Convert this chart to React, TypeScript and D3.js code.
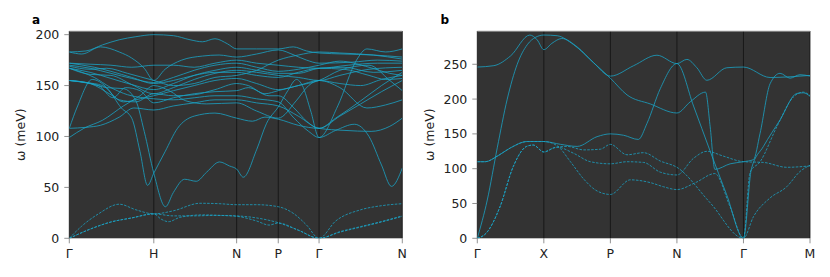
import * as d3 from "d3";

type Pt = [number, number];

// high-symmetry paths
const pathLabelsA = ["Γ", "H", "N", "P", "Γ", "N"];
const pathPosA = [0, 2.03, 4.02, 5.02, 6.0, 8];
const pathLabelsB = ["Γ", "X", "P", "N", "Γ", "M"];
const pathPosB = [0, 1, 2, 3, 4, 5];

const yTicksA = [0, 50, 100, 150, 200];
const yTicksB = [0, 50, 100, 150, 200, 250];

// panel a: optical branches (meV)
const opticalA: Pt[][] = [
  [[0, 183], [0.3, 181], [0.75, 188], [1.2, 183], [1.5, 177], [1.8, 167], [2.03, 155], [2.3, 166], [2.7, 175], [3.2, 179], [3.6, 180], [4.02, 178], [4.5, 181], [5.02, 185], [5.4, 180], [5.7, 175], [6.0, 172], [6.8, 173], [7.4, 175], [8, 174]],
  [[0, 183], [0.4, 184], [0.8, 190], [1.2, 195], [1.6, 198], [2.03, 200], [2.5, 199], [2.9, 195], [3.2, 193], [3.5, 196], [3.8, 191], [4.02, 186], [4.5, 186], [5.02, 186], [5.38, 188], [5.7, 184], [6.0, 182], [6.6, 181], [7.3, 180], [8, 178]],
  [[0, 172], [0.5, 171], [1.0, 170], [1.5, 168], [2.03, 170], [2.5, 170], [3.0, 168], [3.5, 172], [4.02, 175], [4.5, 172], [5.02, 170], [5.5, 168], [6.0, 167], [6.7, 170], [7.4, 172], [8, 172]],
  [[0, 170], [0.5, 167], [1.0, 162], [1.5, 157], [2.03, 153], [2.5, 158], [3.0, 165], [3.5, 170], [4.02, 172], [4.5, 168], [5.02, 164], [5.5, 166], [6.0, 170], [6.5, 174], [7.2, 168], [7.7, 162], [8, 160]],
  [[0, 167], [0.5, 163], [1.0, 157], [1.5, 151], [2.03, 146], [2.5, 152], [3.0, 160], [3.5, 165], [4.02, 168], [4.5, 165], [5.02, 162], [5.5, 162], [6.0, 167], [6.6, 168], [7.3, 163], [8, 165]],
  [[0, 167], [0.5, 161], [1.0, 160], [1.5, 151], [2.03, 142], [2.5, 148], [3.0, 156], [3.5, 162], [4.02, 165], [4.5, 163], [5.02, 160], [5.5, 158], [6.0, 155], [6.5, 160], [7.2, 166], [8, 168]],
  [[0, 172], [0.6, 168], [1.0, 164], [1.5, 158], [2.03, 152], [2.5, 155], [3.0, 160], [3.5, 163], [4.02, 163], [4.5, 160], [5.02, 158], [5.5, 163], [6.0, 167], [6.6, 166], [7.2, 160], [7.6, 156], [8, 157]],
  [[0, 169], [0.5, 166], [0.9, 167], [1.4, 162], [2.03, 155], [2.5, 150], [3.0, 152], [3.5, 158], [4.02, 160], [4.5, 165], [5.02, 175], [5.5, 180], [6.0, 183], [6.5, 182], [7.3, 180], [8, 176]],
  [[0, 155], [0.5, 152], [1.0, 141], [1.3, 134], [1.7, 137], [2.03, 140], [2.5, 145], [3.0, 150], [3.5, 155], [4.02, 157], [4.5, 152], [5.02, 146], [5.5, 150], [6.0, 155], [6.5, 148], [7.15, 128], [7.6, 131], [8, 136]],
  [[0, 155], [0.4, 153], [0.8, 150], [1.2, 136], [1.6, 134], [2.03, 142], [2.5, 140], [3.0, 141], [3.5, 146], [4.02, 152], [4.3, 150], [4.7, 142], [5.02, 145], [5.5, 150], [6.0, 155], [6.5, 165], [7.2, 170], [7.7, 155], [8, 145]],
  [[0, 155], [0.7, 150], [1.05, 138], [1.35, 148], [1.7, 145], [2.03, 133], [2.5, 138], [3.0, 142], [3.5, 144], [4.02, 145], [4.3, 148], [4.8, 140], [5.02, 140], [5.4, 128], [5.7, 115], [6.0, 108], [6.4, 118], [7.0, 135], [7.5, 150], [8, 163]],
  [[0, 167], [0.6, 158], [1.0, 148], [1.4, 141], [2.03, 137], [2.5, 136], [3.0, 138], [3.5, 140], [4.02, 140], [4.5, 137], [5.02, 134], [5.4, 118], [5.75, 105], [6.0, 99], [6.4, 106], [6.85, 112], [7.2, 100], [7.5, 72], [7.74, 51], [8, 69]],
  [[0, 108], [0.4, 109], [0.75, 111], [1.2, 119], [1.55, 128], [2.03, 126], [2.5, 130], [3.0, 133], [3.5, 136], [4.02, 136], [4.5, 133], [5.02, 130], [5.5, 120], [6.0, 108], [6.6, 106], [7.25, 105], [7.7, 110], [8, 118]],
  [[0, 99], [0.35, 108], [0.8, 116], [1.3, 130], [1.7, 140], [2.03, 150], [2.4, 145], [2.8, 135], [3.3, 132], [4.02, 133], [4.5, 125], [5.02, 118], [5.45, 135], [5.75, 150], [6.0, 155], [6.5, 152], [7.0, 150], [7.5, 156], [8, 160]],
  [[0, 108], [0.2, 130], [0.55, 156], [0.9, 148], [1.25, 128], [1.5, 118], [1.7, 85], [1.88, 52], [2.03, 64], [2.3, 85], [2.6, 108], [3.0, 120], [3.5, 123], [4.02, 118], [4.4, 115], [4.7, 119], [5.02, 117], [5.5, 111], [6.0, 108], [6.5, 120], [7.0, 132], [7.5, 144], [8, 155]],
  [[0, 155], [0.5, 152], [0.9, 148], [1.3, 147], [1.6, 135], [1.8, 105], [2.03, 64], [2.31, 31], [2.5, 45], [2.77, 58], [3.05, 56], [3.3, 65], [3.61, 75], [3.85, 71], [4.02, 68], [4.18, 60], [4.5, 87], [4.74, 113], [5.02, 129], [5.25, 145], [5.46, 156], [5.6, 150], [5.8, 125], [6.0, 99], [6.45, 130], [6.9, 175], [7.15, 186], [7.6, 183], [8, 186]]
];

// panel a: acoustic branches (dashed)
const acousticA: Pt[][] = [
  [[0, 0], [0.3, 12], [0.7, 24], [1.2, 33.5], [1.6, 28], [2.03, 24], [2.5, 27], [3.14, 34.4], [3.6, 34], [4.02, 33], [4.5, 33], [5.02, 31], [5.4, 24], [5.7, 13], [6.0, 0], [6.4, 17], [7.0, 28], [7.5, 32], [8, 34]],
  [[0, 0], [0.5, 9], [1.0, 16], [1.5, 20], [2.03, 24], [2.2, 19], [2.38, 16.3], [2.66, 20.6], [3.2, 23], [3.6, 22.5], [4.02, 21.6], [4.5, 17], [4.8, 13], [5.02, 15], [5.5, 8], [6.0, 0], [6.5, 6], [7.0, 11], [7.5, 16], [8, 21.6]],
  [[0, 0], [0.5, 9], [1.0, 16], [1.5, 20], [2.03, 24], [2.5, 22], [3.0, 22], [3.5, 22.5], [4.02, 22], [4.5, 20], [5.02, 15.3], [5.5, 8], [6.0, 0], [6.5, 6.5], [7.0, 11.5], [7.5, 16.5], [8, 22]]
];

// panel b
const solidB: Pt[][] = [
  [[0, 246], [0.25, 248], [0.5, 262], [0.79, 292], [0.9, 285], [1.0, 271], [1.12, 280], [1.27, 287], [1.5, 275], [1.75, 252], [2.0, 233], [2.35, 248], [2.7, 263], [3.0, 251], [3.15, 257], [3.3, 245], [3.45, 227], [3.75, 245], [4.0, 246], [4.4, 231], [4.7, 232], [5, 234]],
  [[0, 0], [0.15, 55], [0.3, 130], [0.45, 200], [0.6, 250], [0.75, 278], [0.88, 289], [1.0, 292], [1.2, 291], [1.45, 278], [1.75, 252], [2.0, 230], [2.25, 206], [2.6, 193], [3.0, 180], [3.2, 196], [3.43, 210], [3.5, 160], [3.57, 99], [3.8, 107], [4.0, 110], [4.15, 113], [4.25, 151], [4.4, 222], [4.55, 237], [4.7, 230], [4.85, 235], [5, 233]],
  [[0, 110], [0.12, 110], [0.3, 118], [0.5, 130], [0.75, 139], [1.0, 139], [1.25, 135], [1.5, 132], [1.8, 146], [2.0, 150], [2.2, 148], [2.42, 142], [2.55, 165], [2.75, 215], [3.0, 251], [3.25, 190], [3.5, 125], [3.75, 62], [4.0, 0], [4.12, 100], [4.3, 132], [4.55, 170], [4.8, 208], [4.9, 209], [5, 204]]
];

const dashedB: Pt[][] = [
  [[0, 0], [0.14, 8], [0.34, 45], [0.54, 103], [0.74, 132], [0.84, 134], [1.0, 124], [1.15, 130], [1.35, 132], [1.6, 127], [1.85, 128], [2.0, 135], [2.25, 120], [2.5, 123], [2.75, 111], [3.0, 102], [3.5, 51], [4.0, 0], [4.15, 31], [4.4, 58], [4.65, 74], [4.85, 96], [5, 105]],
  [[0, 0], [0.14, 8], [0.34, 45], [0.54, 103], [0.74, 132], [0.84, 134], [1.0, 124], [1.2, 131], [1.45, 122], [1.7, 110], [2.0, 107], [2.25, 110], [2.5, 109], [2.75, 95], [3.0, 91], [3.25, 115], [3.45, 125], [3.7, 118], [4.0, 110], [4.3, 109], [4.65, 102], [5, 104]],
  [[0, 110], [0.12, 110], [0.3, 118], [0.5, 130], [0.75, 139], [1.0, 139], [1.2, 133], [1.4, 110], [1.6, 85], [1.8, 68], [2.0, 63], [2.3, 84], [2.6, 80], [2.8, 74], [3.0, 70], [3.28, 80], [3.57, 93], [3.8, 45], [4.0, 0], [4.1, 95], [4.25, 110], [4.5, 160], [4.75, 203], [4.9, 210], [5, 205]]
];

const bandColor = "#1ba5c8";
const font = "DejaVu Sans, sans-serif";

type PanelProps = {
  letter: string;
  letterX: number;
  left: number;
  right: number;
  top: number;
  bottom: number;
  yMax: number;
  pathPos: number[];
  pathLabels: string[];
  yTicks: number[];
  solid: Pt[][];
  dashed: Pt[][];
  labelX: number;
};

function Panel({
  letter,
  letterX,
  left,
  right,
  top,
  bottom,
  yMax,
  pathPos,
  pathLabels,
  yTicks,
  solid,
  dashed,
  labelX
}: PanelProps) {
  const x = d3
    .scaleLinear()
    .domain([pathPos[0], pathPos[pathPos.length - 1]])
    .range([left, right]);
  const y = d3.scaleLinear().domain([0, yMax]).range([bottom, top]);
  const line = d3
    .line<Pt>()
    .x((d) => x(d[0]))
    .y((d) => y(d[1]))
    .curve(d3.curveMonotoneX);

  return (
    <g fontFamily={font}>
      <rect x={left} y={top} width={right - left} height={bottom - top} fill="#333333" />
      {pathPos.map((p, i) => (
        <line key={`v-${i}`} x1={x(p)} x2={x(p)} y1={top} y2={bottom} stroke="#111" strokeWidth={0.8} />
      ))}
      <g clipPath={`url(#clip-${letter})`}>
        {solid.map((b, i) => (
          <path key={`s-${i}`} d={line(b) ?? ""} fill="none" stroke={bandColor} strokeWidth={1} strokeOpacity={0.78} />
        ))}
        {dashed.map((b, i) => (
          <path key={`d-${i}`} d={line(b) ?? ""} fill="none" stroke={bandColor} strokeWidth={1} strokeOpacity={0.78} strokeDasharray="2.6,1.3" />
        ))}
      </g>
      <line x1={left} x2={right} y1={top} y2={top} stroke="#c8c8c8" strokeWidth={1} />
      {yTicks.map((t) => (
        <g key={`yt-${t}`}>
          <line x1={left - 5} x2={left} y1={y(t)} y2={y(t)} stroke="#777" strokeWidth={0.8} />
          <text x={left - 10} y={y(t)} dy="0.36em" textAnchor="end" fontSize={12.5} fill="#222">
            {t}
          </text>
        </g>
      ))}
      {pathPos.map((p, i) => (
        <g key={`xt-${i}`}>
          <line x1={x(p)} x2={x(p)} y1={bottom} y2={bottom + 5} stroke="#777" strokeWidth={0.8} />
          <text x={x(p)} y={bottom + 20} textAnchor="middle" fontSize={12.5} fill="#222">
            {pathLabels[i]}
          </text>
        </g>
      ))}
      <text
        transform={`translate(${labelX}, ${(top + bottom) / 2}) rotate(-90)`}
        textAnchor="middle"
        fontSize={12.5}
        fill="#222"
      >
        ω (meV)
      </text>
      <text x={letterX} y={24} fontSize={12} fontWeight="bold" fill="#000">
        {letter}
      </text>
    </g>
  );
}

export default function App() {
  return (
    <svg
      width={830}
      height={277}
      style={{ position: "absolute", left: 0, top: 0, background: "#fff" }}
    >
      <defs>
        <clipPath id="clip-a">
          <rect x={69.3} y={31} width={333} height={207.3} />
        </clipPath>
        <clipPath id="clip-b">
          <rect x={477.3} y={31} width={332.7} height={207.3} />
        </clipPath>
      </defs>
      <Panel
        letter="a"
        letterX={32}
        left={69.3}
        right={402.3}
        top={31}
        bottom={238.3}
        yMax={203.6}
        pathPos={pathPosA}
        pathLabels={pathLabelsA}
        yTicks={yTicksA}
        solid={opticalA}
        dashed={acousticA}
        labelX={25}
      />
      <Panel
        letter="b"
        letterX={440.5}
        left={477.3}
        right={810}
        top={31}
        bottom={238.3}
        yMax={297.8}
        pathPos={pathPosB}
        pathLabels={pathLabelsB}
        yTicks={yTicksB}
        solid={solidB}
        dashed={dashedB}
        labelX={434}
      />
    </svg>
  );
}
